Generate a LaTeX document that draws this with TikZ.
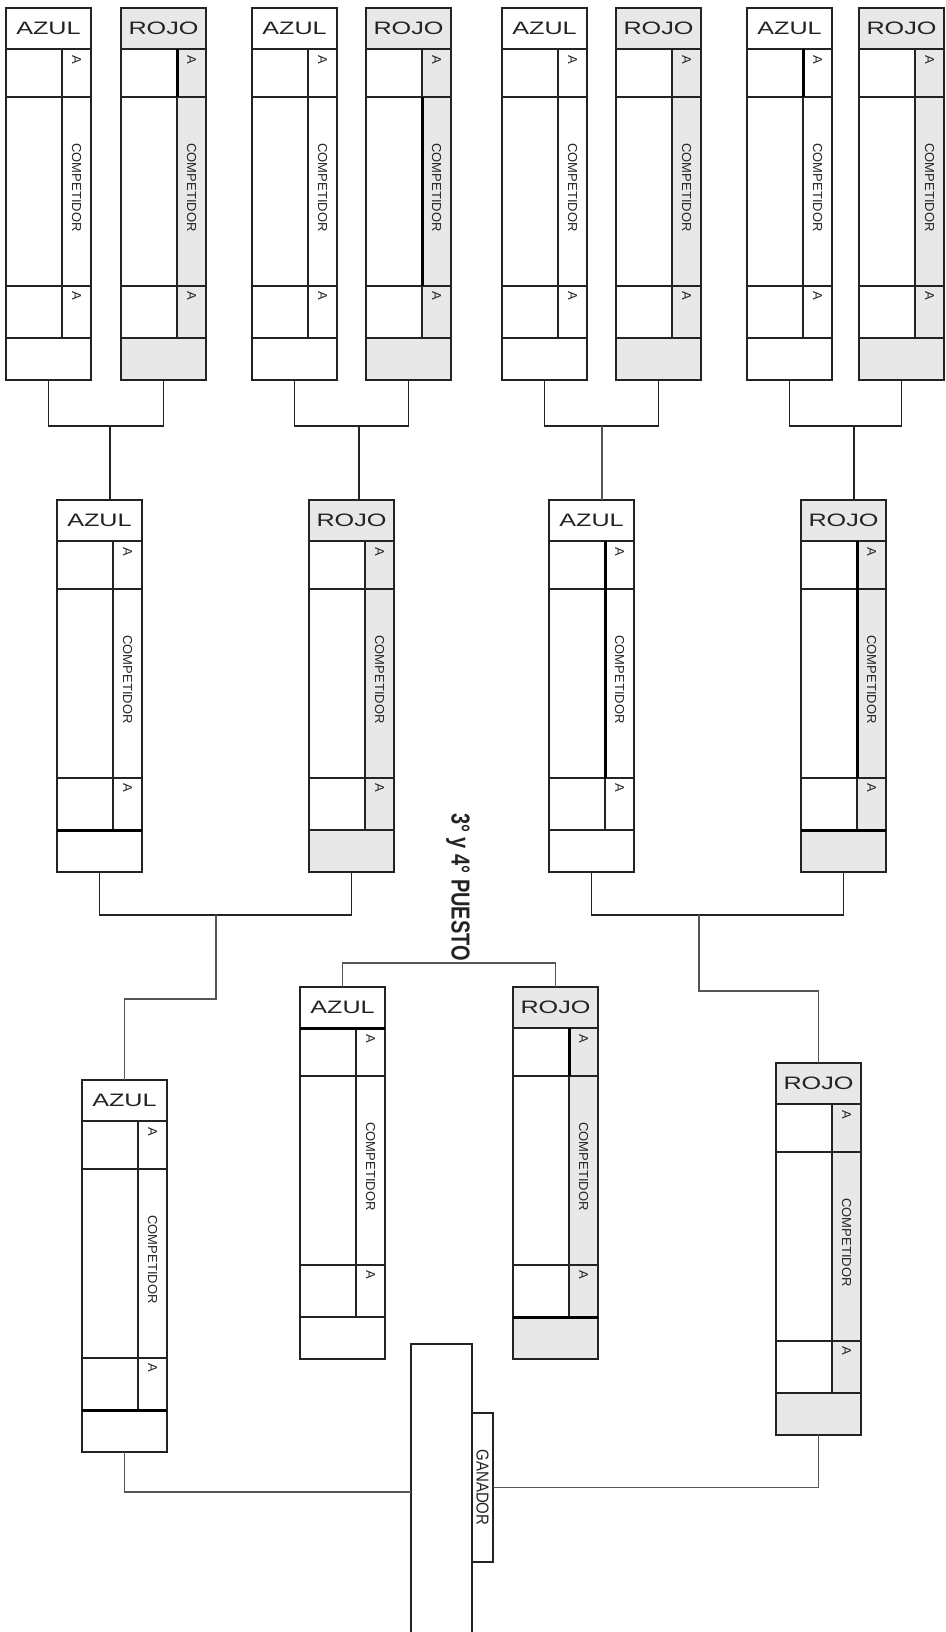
\documentclass[tikz,border=0pt]{standalone}
\usepackage{fontspec}
\usepackage{graphicx}
\setmainfont{Liberation Sans}
\newfontfamily\cabfont[FakeStretch=1.4]{Liberation Sans}
\usetikzlibrary{positioning}
\definecolor{gris}{RGB}{232,232,232}
\definecolor{tinta}{RGB}{35,35,35}
\definecolor{trazo}{RGB}{85,85,85}

% ficha de un competidor: nombre, x, y, color, relleno
\newcommand{\ficha}[5]{%
 \begin{scope}[shift={(#2,#3)}]
  \node[cab,fill=#5] (#1-cab) at (0,0) {#4};
  \node[celda,minimum height=48pt] (#1-i1) at (0,41) {};
  \node[celda,minimum height=189pt] (#1-i2) at (0,89) {};
  \node[celda,minimum height=52pt] (#1-i3) at (0,278) {};
  \node[colu,fill=#5,minimum height=48pt] (#1-d1) at (56,41) {};
  \node[colu,fill=#5,minimum height=189pt] (#1-d2) at (56,89) {};
  \node[colu,fill=#5,minimum height=52pt] (#1-d3) at (56,278) {};
  \node[pie,fill=#5] (#1-pie) at (0,330) {};
  \node[letra,anchor=west] (#1-t1) at ([yshift=-6pt]#1-d1.north) {A};
  \node[letra] (#1-t2) at ([yshift=4pt]#1-d2.center) {COMPETIDOR};
  \node[letra,anchor=west] (#1-t3) at ([yshift=-5pt]#1-d3.north) {A};
 \end{scope}}

\begin{document}
\begin{tikzpicture}[x=1pt,y=-1pt,
 base/.style={draw=tinta,line width=1.5pt,anchor=north west,outer sep=0pt,inner sep=0pt},
 cab/.style={base,minimum width=85pt,minimum height=41pt,text=tinta,font=\cabfont\fontsize{18}{18}\selectfont},
 celda/.style={base,fill=white,minimum width=56pt},
 colu/.style={base,minimum width=29pt},
 pie/.style={base,minimum width=85pt,minimum height=42pt},
 letra/.style={rotate=-90,inner sep=0pt,text=tinta,font=\fontsize{13}{13}\selectfont},
 linea/.style={draw=tinta,line width=1.5pt},
 fino/.style={draw=trazo,line width=1.2pt},
 grueso/.style={draw=black,line width=3pt}]
 \useasboundingbox (0,0) rectangle (945,1632);
 \fill[white] (0,0) rectangle (945,1632);
 % primera ronda
 \ficha{a1}{6}{8}{AZUL}{white}
 \ficha{r1}{121}{8}{ROJO}{gris}
 \ficha{a2}{252}{8}{AZUL}{white}
 \ficha{r2}{366}{8}{ROJO}{gris}
 \ficha{a3}{502}{8}{AZUL}{white}
 \ficha{r3}{616}{8}{ROJO}{gris}
 \ficha{a4}{747}{8}{AZUL}{white}
 \ficha{r4}{859}{8}{ROJO}{gris}
 % segunda ronda
 \ficha{a5}{57}{500}{AZUL}{white}
 \ficha{r5}{309}{500}{ROJO}{gris}
 \ficha{a6}{549}{500}{AZUL}{white}
 \ficha{r6}{801}{500}{ROJO}{gris}
 % 3 y 4 puesto
 \ficha{at}{300}{987}{AZUL}{white}
 \ficha{rt}{513}{987}{ROJO}{gris}
 % finalistas
 \ficha{a7}{82}{1080}{AZUL}{white}
 \ficha{r8}{776}{1063}{ROJO}{gris}
 % trazos gruesos
 \draw[grueso] (r1-d1.north west) -- (r1-d1.south west);
 \draw[grueso] (r2-d2.north west) -- (r2-d2.south west);
 \draw[grueso] (a4-d1.north west) -- (a4-d1.south west);
 \draw[grueso] (a5-pie.north west) -- (a5-pie.north east);
 \draw[grueso] (a6-d1.north west) -- (a6-d2.south west);
 \draw[grueso] (r6-d1.north west) -- (r6-d2.south west);
 \draw[grueso] (r6-pie.north west) -- (r6-pie.north east);
 \draw[grueso] (at-cab.south west) -- (at-cab.south east);
 \draw[grueso] (rt-d1.north west) -- (rt-d1.south west);
 \draw[grueso] (rt-pie.north west) -- (rt-pie.north east);
 \draw[grueso] (a7-pie.north west) -- (a7-pie.north east);
 % llaves
 \coordinate (j1) at (110,426);
 \coordinate (j2) at (359,426);
 \coordinate (j3) at (602,426);
 \coordinate (j4) at (854,426);
 \draw[linea] (a1-pie.south) |- (j1) -| (r1-pie.south);
 \draw[linea] (a2-pie.south) |- (j2) -| (r2-pie.south);
 \draw[linea] (a3-pie.south) |- (j3) -| (r3-pie.south);
 \draw[linea] (a4-pie.south) |- (j4) -| (r4-pie.south);
 \draw[linea] (j1) -- (j1 |- a5-cab.north);
 \draw[linea] (j2) -- (j2 |- r5-cab.north);
 \draw[fino] (j3) -- (j3 |- a6-cab.north);
 \draw[linea] (j4) -- (j4 |- r6-cab.north);
 \coordinate (j5) at (216,915);
 \coordinate (j6) at (699,915);
 \coordinate (k5) at (216,999);
 \coordinate (k6) at (699,991);
 \draw[linea] (a5-pie.south) |- (j5) -| (r5-pie.south);
 \draw[linea] (a6-pie.south) |- (j6) -| (r6-pie.south);
 \draw[fino] (j5) -- (k5) -| (a7-cab.north);
 \draw[fino] (j6) -- (k6) -| (r8-cab.north);
 \coordinate (jt) at (450,963);
 \draw[fino] (at-cab.north) |- (jt) -| (rt-cab.north);
 \node[rotate=-90,inner sep=0pt,text=tinta,font=\bfseries\fontsize{20}{20}\selectfont] (p34) at (458,887) {\scalebox{1}[1.3]{3° y 4° PUESTO}};
 % ganador
 \node[base,fill=white,minimum width=61pt,minimum height=296pt] (gan) at (411,1344) {};
 \node[base,fill=white,minimum width=21pt,minimum height=149pt] (gtag) at (472,1413) {};
 \node[rotate=-90,inner sep=0pt,text=tinta,font=\fontsize{15}{15}\selectfont] (gtxt) at (gtag.center) {\scalebox{1}[1.15]{GANADOR}};
 \draw[fino] (a7-pie.south) |- (gan.west);
 \draw[fino] (r8-pie.south) |- (gtag.east);
\end{tikzpicture}
\end{document}
